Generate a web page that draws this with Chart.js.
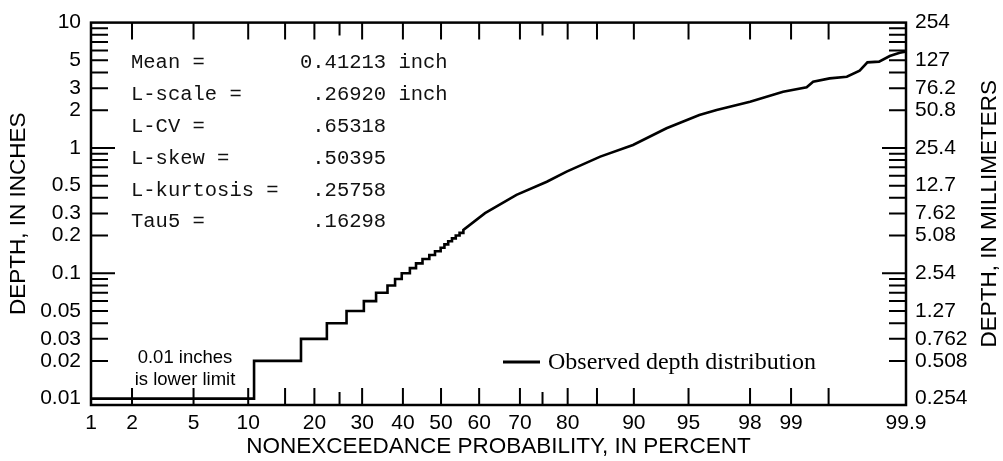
<!DOCTYPE html>
<html>
<head>
<meta charset="utf-8">
<script src="https://cdn.jsdelivr.net/npm/chart.js@4.4.1/dist/chart.umd.min.js"></script>
<style>
  body { margin: 0; background: #fff; }
  #wrap { width: 1003px; height: 461px; }
</style>
</head>
<body>
<div id="wrap"><canvas id="depthChart" width="1003" height="461"></canvas></div>
<script>
// Observed depth. Stepped part: depth holds from this probability to the next one.
const stepProb  = [1, 10.7, 17.6, 22.4, 26.5, 30.4, 33.3, 36.1, 38.0, 39.7, 41.8, 43.4, 45.1, 46.9, 48.4, 49.9, 50.9, 51.9, 52.9, 53.9, 54.9];
const stepDepth = [0.01, 0.02, 0.03, 0.04, 0.05, 0.06, 0.07, 0.08, 0.09, 0.10, 0.11, 0.12, 0.13, 0.14, 0.15, 0.16, 0.17, 0.18, 0.19, 0.20, 0.21];
// upper part of the curve (steps too small to see)
const curveProb  = [55.9, 61.5, 69.2, 75.9, 79.8, 85.5, 89.9, 93.3, 95.7, 96.65, 98.0, 98.85, 99.245, 99.33, 99.51, 99.65, 99.73, 99.77, 99.82, 99.857, 99.885, 99.898];
const curveDepth = [0.222, 0.302, 0.422, 0.538, 0.647, 0.853, 1.057, 1.435, 1.83, 2.01, 2.34, 2.81, 3.05, 3.38, 3.59, 3.70, 4.13, 4.82, 4.88, 5.41, 5.74, 5.85];

// axis ticks
const xTickLabels = [1, 2, 5, 10, 20, 30, 40, 50, 60, 70, 80, 90, 95, 98, 99, 99.9];
const xMarks = [2, 5, 10, 15, 20, 25, 30, 40, 50, 60, 70, 75, 80, 85, 90, 95, 98, 99, 99.5];
const xShortMarks = [25, 75];
const yTickVals = [0.01, 0.02, 0.03, 0.05, 0.1, 0.2, 0.3, 0.5, 1, 2, 3, 5, 10];
const yTickLabels = ['0.01', '0.02', '0.03', '0.05', '0.1', '0.2', '0.3', '0.5', '1', '2', '3', '5', '10'];
const mmTickLabels = ['0.254', '0.508', '0.762', '1.27', '2.54', '5.08', '7.62', '12.7', '25.4', '50.8', '76.2', '127', '254'];

const statNames  = ['Mean =', 'L-scale =', 'L-CV =', 'L-skew =', 'L-kurtosis =', 'Tau5 ='];
const statValues = ['0.41213 inch', ' .26920 inch', ' .65318', ' .50395', ' .25758', ' .16298'];

// inverse normal CDF (Acklam), used for the probability axis
function probit(p) {
    const a = [-3.969683028665376e+01, 2.209460984245205e+02, -2.759285104469687e+02, 1.383577518672690e+02, -3.066479806614716e+01, 2.506628277459239e+00];
    const b = [-5.447609879822406e+01, 1.615858368580409e+02, -1.556989798598866e+02, 6.680131188771972e+01, -1.328068155288572e+01];
    const c = [-7.784894002430293e-03, -3.223964580411365e-01, -2.400758277161838e+00, -2.549732539343734e+00, 4.374664141464968e+00, 2.938163982698783e+00];
    const d = [7.784695709041462e-03, 3.224671290700398e-01, 2.445134137142996e+00, 3.754408661907416e+00];
    const pl = 0.02425;
    let q, r;
    if (p < pl) {
        q = Math.sqrt(-2 * Math.log(p));
        return (((((c[0]*q+c[1])*q+c[2])*q+c[3])*q+c[4])*q+c[5]) / ((((d[0]*q+d[1])*q+d[2])*q+d[3])*q+1);
    }
    if (p > 1 - pl) {
        q = Math.sqrt(-2 * Math.log(1 - p));
        return -(((((c[0]*q+c[1])*q+c[2])*q+c[3])*q+c[4])*q+c[5]) / ((((d[0]*q+d[1])*q+d[2])*q+d[3])*q+1);
    }
    q = p - 0.5;
    r = q * q;
    return (((((a[0]*r+a[1])*r+a[2])*r+a[3])*r+a[4])*r+a[5])*q / (((((b[0]*r+b[1])*r+b[2])*r+b[3])*r+b[4])*r+1);
}

// build the line points
const points = [];
for (let i = 0; i < stepProb.length; i++) {
    const next = i + 1 < stepProb.length ? stepProb[i + 1] : curveProb[0];
    points.push({ x: probit(stepProb[i] / 100), y: stepDepth[i] });
    points.push({ x: probit(next / 100), y: stepDepth[i] });
}
for (let i = 0; i < curveProb.length; i++) {
    points.push({ x: probit(curveProb[i] / 100), y: curveDepth[i] });
}

// minor ticks on the depth axes
const yMarks = [];
[0.01, 0.1, 1].forEach(dec => {
    for (let k = 1; k <= 9; k++) {
        if (dec === 0.01 && k === 1) continue;
        yMarks.push({ v: Number((k * dec).toPrecision(3)), major: k === 1 });
    }
});

const sans = "'Liberation Sans', Arial, sans-serif";
const Y_MIN = 0.0089, Y_MAX = 10;

const frameTicks = {
    id: 'frameTicks',
    afterDatasetsDraw(chart) {
        const { ctx, chartArea: { left, right, top, bottom }, scales: { x, y } } = chart;
        ctx.save();
        ctx.strokeStyle = '#000';
        ctx.lineWidth = 2;
        ctx.beginPath();
        xMarks.forEach(p => {
            const px = x.getPixelForValue(probit(p / 100));
            const len = xShortMarks.includes(p) ? 13 : 17;
            ctx.moveTo(px, bottom); ctx.lineTo(px, bottom - len);
            ctx.moveTo(px, top); ctx.lineTo(px, top + len);
        });
        yMarks.forEach(m => {
            const py = y.getPixelForValue(m.v);
            const len = m.major ? 24 : 17;
            ctx.moveTo(left, py); ctx.lineTo(left + len, py);
            ctx.moveTo(right, py); ctx.lineTo(right - len, py);
        });
        ctx.stroke();
        ctx.lineWidth = 2.5;
        ctx.strokeRect(left, top, right - left, bottom - top);
        ctx.restore();
    }
};

const notes = {
    id: 'notes',
    afterDraw(chart) {
        const ctx = chart.ctx;
        ctx.save();
        ctx.fillStyle = '#111';
        ctx.textBaseline = 'middle';
        // statistics block
        ctx.font = "20.5px 'Liberation Mono', 'Courier New', monospace";
        ctx.textAlign = 'left';
        statNames.forEach((name, i) => {
            const rowY = 63 + i * 31.8;
            ctx.fillText(name, 131, rowY);
            ctx.fillText(statValues[i], 300, rowY);
        });
        // lower limit note
        ctx.fillStyle = '#000';
        ctx.font = '18.5px ' + sans;
        ctx.textAlign = 'center';
        ctx.fillText('0.01 inches', 185, 358);
        ctx.fillText('is lower limit', 185, 380);
        // legend
        ctx.strokeStyle = '#000';
        ctx.lineWidth = 3;
        ctx.beginPath();
        ctx.moveTo(503, 362); ctx.lineTo(540, 362);
        ctx.stroke();
        ctx.font = "24px 'Liberation Serif', 'Times New Roman', serif";
        ctx.textAlign = 'left';
        ctx.fillText(chart.data.datasets[0].label, 548, 363);
        // right axis title, reads bottom to top
        ctx.translate(990, (chart.chartArea.top + chart.chartArea.bottom) / 2);
        ctx.rotate(-Math.PI / 2);
        ctx.textAlign = 'center';
        ctx.font = '22.5px ' + sans;
        ctx.fillText('DEPTH, IN MILLIMETERS', 0, 0);
        ctx.restore();
    }
};

new Chart(document.getElementById('depthChart'), {
    type: 'line',
    data: {
        datasets: [{
            label: 'Observed depth distribution',
            data: points,
            borderColor: '#000',
            borderWidth: 2.6,
            pointRadius: 0,
            tension: 0,
            fill: false
        }]
    },
    options: {
        responsive: false,
        animation: false,
        events: [],
        layout: { padding: { top: 22, left: 0, right: 0, bottom: 0 } },
        plugins: { legend: { display: false }, tooltip: { enabled: false } },
        scales: {
            x: {
                type: 'linear',
                min: probit(0.01),
                max: probit(0.999),
                afterBuildTicks: ax => { ax.ticks = xTickLabels.map(p => ({ value: probit(p / 100) })); },
                afterFit: ax => { ax.height = 56; },
                grid: { display: false, drawTicks: false },
                border: { display: false },
                ticks: {
                    autoSkip: false, maxRotation: 0, padding: 6, color: '#000',
                    font: { family: sans, size: 21 },
                    callback: (v, i) => String(xTickLabels[i])
                },
                title: {
                    display: true, text: 'NONEXCEEDANCE PROBABILITY, IN PERCENT', color: '#000',
                    font: { family: sans, size: 22.5 }, padding: { top: 0, bottom: 1 }
                }
            },
            y: {
                type: 'logarithmic',
                position: 'left',
                min: Y_MIN,
                max: Y_MAX,
                afterBuildTicks: ax => { ax.ticks = yTickVals.map(v => ({ value: v })); },
                afterFit: ax => { ax.width = 91; },
                grid: { display: false, drawTicks: false },
                border: { display: false },
                ticks: {
                    autoSkip: false, padding: 10, color: '#000',
                    font: { family: sans, size: 21 },
                    callback: (v, i) => yTickLabels[i]
                },
                title: {
                    display: true, text: 'DEPTH, IN INCHES', color: '#000',
                    font: { family: sans, size: 22.5 }, padding: { top: 5, bottom: 0 }
                }
            },
            y2: {
                type: 'logarithmic',
                position: 'right',
                min: Y_MIN,
                max: Y_MAX,
                afterBuildTicks: ax => { ax.ticks = yTickVals.map(v => ({ value: v })); },
                afterFit: ax => { ax.width = 97; },
                grid: { display: false, drawTicks: false },
                border: { display: false },
                ticks: {
                    autoSkip: false, padding: 9, color: '#000',
                    font: { family: sans, size: 21 },
                    callback: (v, i) => mmTickLabels[i]
                }
            }
        }
    },
    plugins: [frameTicks, notes]
});
</script>
</body>
</html>
